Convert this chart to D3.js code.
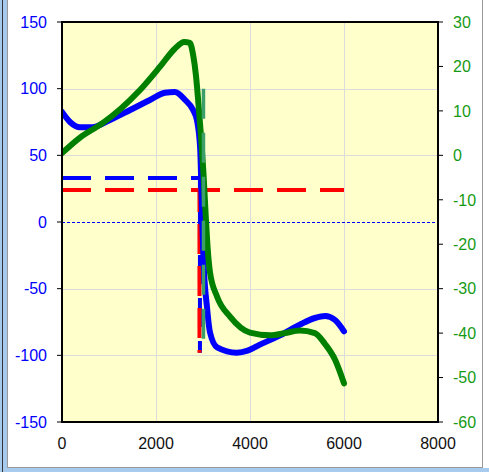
<!DOCTYPE html>
<html><head><meta charset="utf-8">
<script src="https://cdn.jsdelivr.net/npm/d3@7"></script>
<style>html,body{margin:0;padding:0;background:#fff;}svg{display:block;}</style>
</head><body>
<script>
// ---- data ----
const xTicks = [0, 2000, 4000, 6000, 8000];
const leftTicks = [-150, -100, -50, 0, 50, 100, 150];
const rightTicks = [-60, -50, -40, -30, -20, -10, 0, 10, 20, 30];

// blue solid (left axis)
const blueX = [0, 170, 383, 640, 1020, 1450, 1870, 2190, 2400, 2620, 2790, 2870, 2940, 2970, 2990, 3010, 3085, 3150, 3300, 3720, 3950, 4210, 4640, 5060, 5380, 5600, 5810, 6000];
const blueY = [82.5, 75, 71, 71, 76.5, 84, 91.5, 97, 97.5, 91.5, 84, 76.5, 55, 20, -5, -28, -64, -83, -94, -98, -96.5, -92, -85, -77, -72, -70.5, -73.5, -82];

// green solid (right axis)
const greenX = [0, 383, 870, 1250, 1660, 2090, 2400, 2600, 2720, 2790, 2850, 2900, 2960, 3010, 3060, 3100, 3150, 3300, 3575, 4000, 4430, 4740, 5060, 5380, 5600, 5810, 6000];
const greenY = [0.5, 4, 7.3, 10.5, 14.7, 20, 24, 25.5, 25.3, 22.6, 18, 12, 4, -4, -14, -21, -26.4, -31.8, -36.3, -39.9, -40.5, -40, -39.4, -40, -42.5, -46, -51.3];

// dashed reference lines
const blueDashX = [0, 2935, 2935];
const blueDashY = [33, 33, -98];
const redDashX = [0, 6000];
const redDashY = [24, 24];
const redVertX = [2925, 2925];
const redVertY = [24, -98];
const greenDashX = [3010, 3010];
const greenDashY = [15, -42];

// ---- layout ----
const W = 489, H = 472;
const m = {left: 62, top: 22, right: 438, bottom: 422};

const svg = d3.select("body").append("svg").attr("width", W).attr("height", H);

// outer frame
svg.append("rect").attr("x", 0).attr("y", 0).attr("width", W).attr("height", H).attr("fill", "#fff");
svg.append("rect").attr("x", 0).attr("y", 0).attr("width", 8).attr("height", H).attr("fill", "#a6cbef");
svg.append("rect").attr("x", 0).attr("y", 468).attr("width", W).attr("height", 4).attr("fill", "#a6cbef");
svg.append("line").attr("x1", 2.5).attr("x2", 2.5).attr("y1", 0).attr("y2", H).attr("stroke", "#333").attr("stroke-width", 1);
svg.append("line").attr("x1", 7.5).attr("x2", 7.5).attr("y1", 0).attr("y2", 468).attr("stroke", "#999").attr("stroke-width", 1);
svg.append("line").attr("x1", 7.5).attr("x2", 483).attr("y1", 467.5).attr("y2", 467.5).attr("stroke", "#999").attr("stroke-width", 1);
svg.append("line").attr("x1", 482.5).attr("x2", 482.5).attr("y1", 0).attr("y2", 468).attr("stroke", "#999").attr("stroke-width", 1);

const x = d3.scaleLinear().domain([0, 8000]).range([m.left, m.right]);
const yL = d3.scaleLinear().domain([-150, 150]).range([m.bottom, m.top]);
const yR = d3.scaleLinear().domain([-60, 30]).range([m.bottom, m.top]);

// plot background
svg.append("rect").attr("x", m.left).attr("y", m.top)
  .attr("width", m.right - m.left).attr("height", m.bottom - m.top).attr("fill", "#ffffcc");

// gridlines
const grid = svg.append("g").attr("stroke", "#dcdcdc").attr("stroke-width", 1);
xTicks.filter(t => t > 0 && t < 8000).forEach(t => {
  grid.append("line").attr("x1", Math.round(x(t)) + 0.5).attr("x2", Math.round(x(t)) + 0.5)
    .attr("y1", m.top).attr("y2", m.bottom);
});
leftTicks.filter(t => t > -150 && t < 150 && t !== 0).forEach(t => {
  grid.append("line").attr("y1", Math.round(yL(t)) + 0.5).attr("y2", Math.round(yL(t)) + 0.5)
    .attr("x1", m.left).attr("x2", m.right);
});

// zero line
svg.append("line").attr("x1", m.left).attr("x2", m.right)
  .attr("y1", Math.round(yL(0)) + 0.5).attr("y2", Math.round(yL(0)) + 0.5)
  .attr("stroke", "#0000ff").attr("stroke-width", 1).attr("stroke-dasharray", "3,2");

const clip = svg.append("clipPath").attr("id", "clip").append("rect")
  .attr("x", m.left).attr("y", m.top).attr("width", m.right - m.left).attr("height", m.bottom - m.top);
const plot = svg.append("g").attr("clip-path", "url(#clip)");

const lineL = d3.line().x(d => x(d[0])).y(d => yL(d[1])).curve(d3.curveMonotoneX);
const lineR = d3.line().x(d => x(d[0])).y(d => yR(d[1])).curve(d3.curveMonotoneX);
const straightL = d3.line().x(d => x(d[0])).y(d => yL(d[1]));
const straightR = d3.line().x(d => x(d[0])).y(d => yR(d[1]));
const zip = (a, b) => a.map((v, i) => [v, b[i]]);

// dashed lines
plot.append("path").attr("d", straightL(zip(blueDashX, blueDashY)))
  .attr("fill", "none").attr("stroke", "#0000ff").attr("stroke-width", 4)
  .attr("stroke-dasharray", "29,14").attr("stroke-linecap", "butt");
plot.append("path").attr("d", straightL(zip(redDashX, redDashY)))
  .attr("fill", "none").attr("stroke", "#ff0000").attr("stroke-width", 4)
  .attr("stroke-dasharray", "29,14");
plot.append("path").attr("d", straightL(zip(redVertX, redVertY)))
  .attr("fill", "none").attr("stroke", "#ff0000").attr("stroke-width", 4)
  .attr("stroke-dasharray", "30,12").attr("stroke-dashoffset", 8);

// solid series
plot.append("path").attr("d", lineL(zip(blueX, blueY)))
  .attr("fill", "none").attr("stroke", "#0000ff").attr("stroke-width", 6)
  .attr("stroke-linejoin", "round").attr("stroke-linecap", "round");
plot.append("path").attr("d", lineR(zip(greenX, greenY)))
  .attr("fill", "none").attr("stroke", "#008000").attr("stroke-width", 6)
  .attr("stroke-linejoin", "round").attr("stroke-linecap", "round");

plot.append("path").attr("d", straightR(zip(greenDashX, greenDashY)))
  .attr("fill", "none").attr("stroke", "#3c9e68").attr("stroke-width", 3.5)
  .attr("stroke-dasharray", "30,14");

// plot frame
svg.append("rect").attr("x", m.left).attr("y", m.top)
  .attr("width", m.right - m.left).attr("height", m.bottom - m.top)
  .attr("fill", "none").attr("stroke", "#000").attr("stroke-width", 2);

const font = "'Liberation Sans', Arial, sans-serif";

// left axis
const gL = svg.append("g");
leftTicks.forEach(t => {
  const yy = yL(t);
  gL.append("line").attr("x1", m.left - 5).attr("x2", m.left).attr("y1", yy).attr("y2", yy)
    .attr("stroke", "#000").attr("stroke-width", 1);
  gL.append("text").attr("x", 47).attr("y", yy).attr("dy", "0.36em")
    .attr("text-anchor", "end").attr("fill", "#0000ff")
    .style("font-family", font).style("font-size", "16px").text(t);
});

// right axis
const gR = svg.append("g");
rightTicks.forEach(t => {
  const yy = yR(t);
  gR.append("line").attr("x1", m.right).attr("x2", m.right + 5).attr("y1", yy).attr("y2", yy)
    .attr("stroke", "#000").attr("stroke-width", 1);
  gR.append("text").attr("x", 453).attr("y", yy).attr("dy", "0.36em")
    .attr("text-anchor", "start").attr("fill", "#169a16")
    .style("font-family", font).style("font-size", "16px").text(t);
});

// bottom axis labels
const gB = svg.append("g");
xTicks.forEach(t => {
  gB.append("text").attr("x", x(t)).attr("y", 449)
    .attr("text-anchor", "middle").attr("fill", "#111")
    .style("font-family", font).style("font-size", "16px").text(t);
});
</script>
</body></html>
